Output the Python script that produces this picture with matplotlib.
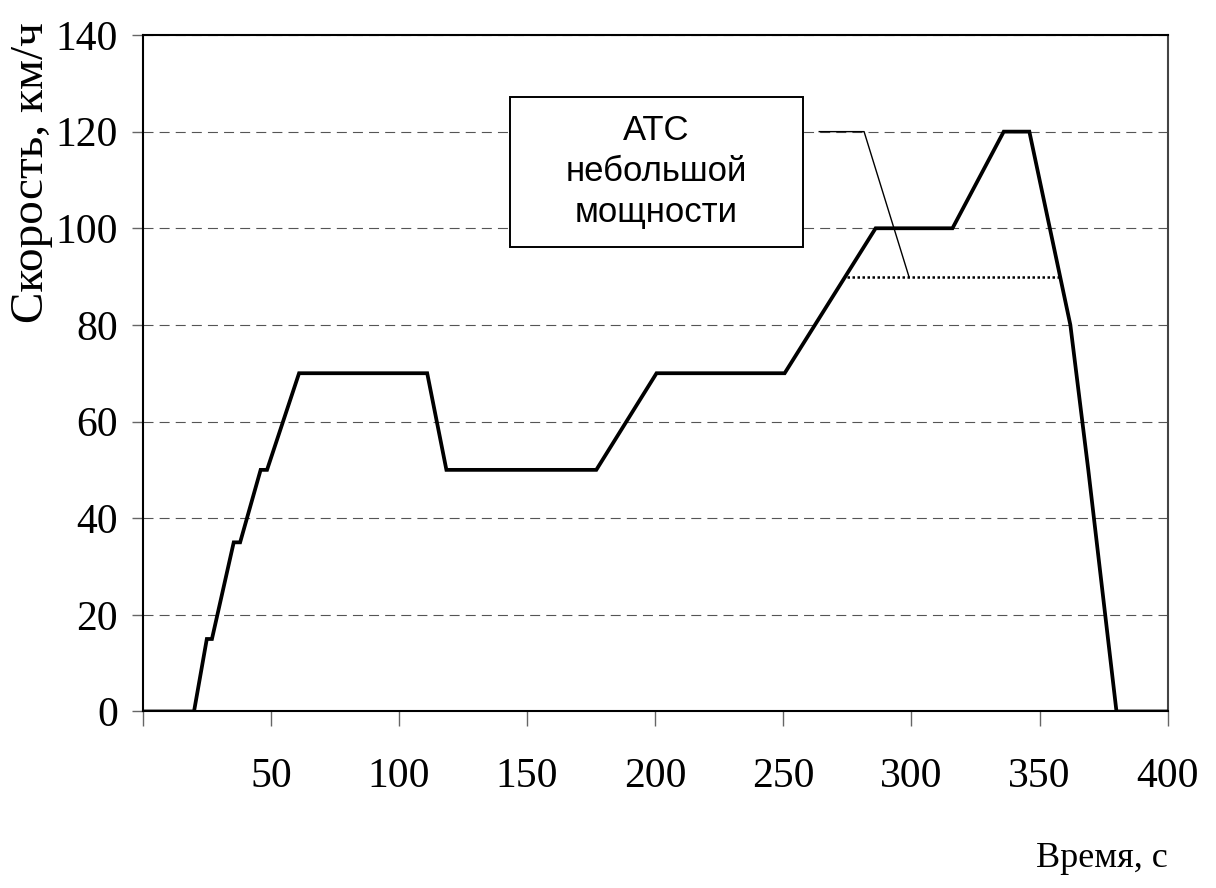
"""Speed profile of a low-power vehicle (ATC) over time."""

import matplotlib.pyplot as plt
from matplotlib.patches import Rectangle

# Curve
time_s = [0, 20, 25, 27, 35.5, 38, 46, 48.5, 61, 111, 118.5, 177, 200.5, 250.5,
          286, 316, 336, 346, 362, 369, 380, 400]
speed_kmh = [0, 0, 15, 15, 35, 35, 50, 50, 70, 70, 50, 50, 70, 70,
             100, 100, 120, 120, 80, 50, 0, 0]

# Dotted level line and callout leader
level_x = [275, 358]
level_y = [90, 90]
leader_x = [264, 281.5, 299]
leader_y = [120, 120, 90]

# Callout box (data coordinates) and its text
box_x = [143.3, 257.7]
box_y = [96.2, 127.2]
box_text = "АТС\nнебольшой\nмощности"

x_ticks = [0, 50, 100, 150, 200, 250, 300, 350, 400]
x_tick_labels = ["", "50", "100", "150", "200", "250", "300", "350", "400"]
y_ticks = [0, 20, 40, 60, 80, 100, 120, 140]

SERIF = ["Liberation Serif", "DejaVu Serif"]
SANS = ["Liberation Sans", "DejaVu Sans"]

fig = plt.figure(figsize=(12.16, 8.88), dpi=100)
ax = fig.add_axes([0.1174, 0.1988, 0.8429, 0.7618])

ax.plot(time_s, speed_kmh, color="black", linewidth=2.7, solid_joinstyle="miter", zorder=3)
ax.plot(level_x, level_y, color="black", linewidth=1.8, linestyle=(0, (1, 1)), zorder=3)
ax.plot(leader_x, leader_y, color="black", linewidth=1.0, zorder=3)

# Callout box
ax.add_patch(Rectangle((box_x[0], box_y[0]), box_x[1] - box_x[0], box_y[1] - box_y[0],
                       facecolor="white", edgecolor="black", linewidth=1.4, zorder=4))
ax.text(sum(box_x) / 2, sum(box_y) / 2, box_text, ha="center", va="center",
        fontsize=25, family=SANS, linespacing=1.3, zorder=5)

ax.set_xlim(0, 400)
ax.set_ylim(0, 140)
ax.set_xticks(x_ticks)
ax.set_xticklabels(x_tick_labels)
ax.set_yticks(y_ticks)

ax.yaxis.grid(True, color="#555555", linewidth=0.8, linestyle=(0, (9, 5.5)))
ax.xaxis.grid(False)

for side in ["left", "bottom", "top", "right"]:
    ax.spines[side].set_linewidth(1.5)
    ax.spines[side].set_color("black")
ax.spines["right"].set_color("#444444")

ax.tick_params(axis="x", direction="out", length=11, width=1.0, color="#666666", pad=22)
ax.tick_params(axis="y", direction="out", length=8, width=1.0, color="#666666", pad=10)
for lbl in ax.get_xticklabels() + ax.get_yticklabels():
    lbl.set_family(SERIF)
    lbl.set_fontsize(30)

ax.set_ylabel("Скорость, км/ч", fontsize=34, family=SERIF)
ax.yaxis.label.set_verticalalignment("center")
ax.yaxis.set_label_coords(-0.108, 0.797)

ax.set_xlabel("Время, с", fontsize=26, family=SERIF, ha="right")
ax.xaxis.set_label_coords(1.0, -0.193)

fig.savefig("out.png", dpi=100)
